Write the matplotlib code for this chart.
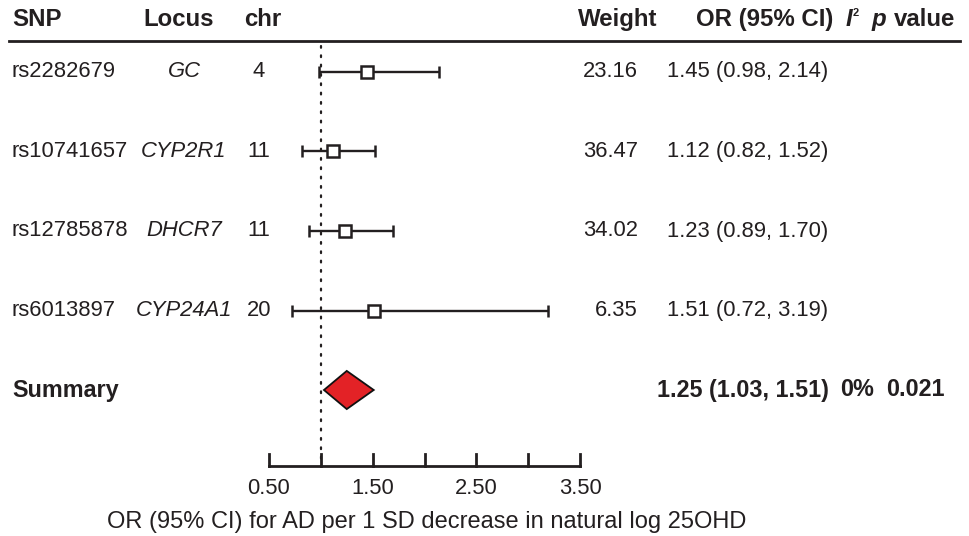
import matplotlib
matplotlib.use('Agg')
import matplotlib.pyplot as plt
from matplotlib.transforms import blended_transform_factory
from matplotlib.patches import Polygon
import numpy as np

plt.rcParams['font.family'] = ['Liberation Sans', 'DejaVu Sans']

# data
snps = ['rs2282679', 'rs10741657', 'rs12785878', 'rs6013897']
loci = ['GC', 'CYP2R1', 'DHCR7', 'CYP24A1']
chrom = ['4', '11', '11', '20']
weights = [23.16, 36.47, 34.02, 6.35]
or_est = [1.45, 1.12, 1.23, 1.51]
or_lo = [0.98, 0.82, 0.89, 0.72]
or_hi = [2.14, 1.52, 1.70, 3.19]
sum_est, sum_lo, sum_hi = 1.25, 1.03, 1.51
sum_i2 = '0%'
sum_p = '0.021'
xticks = [0.5, 1.0, 1.5, 2.0, 2.5, 3.0, 3.5]
xticklabels = ['0.50', '', '1.50', '', '2.50', '', '3.50']

W, H = 970, 536
ink = '#231f20'
fig = plt.figure(figsize=(W / 100, H / 100), dpi=100)
ax = fig.add_axes([0, 0, 1, 1])
ax.axis('off')

# pixel layout -> data coords
px_per_unit = 103.67
x0_px = 269
row0_px, row_step = 72, 79.5
ax.set_xlim(0.5 - x0_px / px_per_unit, 0.5 + (W - x0_px) / px_per_unit)
ax.set_ylim((H - row0_px) / row_step, -row0_px / row_step)

def ypx(p):
    return (p - row0_px) / row_step

tr = blended_transform_factory(ax.transAxes, ax.transData)
def fx(p):
    return p / W

n = len(snps)
rows = np.arange(n)
sum_row = n

# header
hy = ypx(20)
hkw = dict(transform=tr, fontsize=17.3, fontweight='bold', va='center', color=ink)
ax.text(fx(12), hy, 'SNP', ha='left', **hkw)
ax.text(fx(179), hy, 'Locus', ha='center', **hkw)
ax.text(fx(263), hy, 'chr', ha='center', **hkw)
ax.text(fx(657), hy, 'Weight', ha='right', **hkw)
ax.text(fx(765), hy, 'OR (95% CI)', ha='center', **hkw)
ax.text(fx(846), hy, 'I', ha='left', style='italic', **hkw)
ax.text(fx(853), ypx(13), '2', transform=tr, ha='left', va='center',
        fontsize=8, fontweight='bold', color=ink)
ax.text(fx(872), hy, 'p', ha='left', style='italic', **hkw)
ax.text(fx(894), hy, 'value', ha='left', **hkw)
ax.plot([fx(9), fx(960)], [ypx(41), ypx(41)], transform=tr, color=ink, lw=2)

# rows
bkw = dict(transform=tr, fontsize=15.8, va='center', color=ink)
for i in range(n):
    ax.text(fx(12), rows[i], snps[i], ha='left', **bkw)
    ax.text(fx(184), rows[i], loci[i], ha='center', style='italic', **bkw)
    ax.text(fx(259), rows[i], chrom[i], ha='center', **bkw)
    ax.text(fx(638), rows[i], f'{weights[i]:.2f}', ha='right', **bkw)
    ax.text(fx(667), rows[i], f'{or_est[i]:.2f} ({or_lo[i]:.2f}, {or_hi[i]:.2f})',
            ha='left', **bkw)

# summary row
skw = dict(transform=tr, fontsize=16.8, fontweight='bold', va='center', color=ink)
ax.text(fx(12), sum_row, 'Summary', ha='left', **skw)
ax.text(fx(657), sum_row, f'{sum_est:.2f} ({sum_lo:.2f}, {sum_hi:.2f})', ha='left', **skw)
ax.text(fx(840), sum_row, sum_i2, ha='left', **skw)
ax.text(fx(886), sum_row, sum_p, ha='left', **skw)

# reference line
axis_y = ypx(466)
ax.plot([1.0, 1.0], [ypx(46), axis_y], color=ink, lw=1.6,
        linestyle=(0, (0.8, 3.4)), dash_capstyle='round')

# estimates with CIs
ax.errorbar(or_est, rows,
            xerr=[np.array(or_est) - np.array(or_lo), np.array(or_hi) - np.array(or_est)],
            fmt='s', ms=8, mfc='white', mec=ink, mew=1.8,
            ecolor=ink, elinewidth=1.7, capsize=4, capthick=1.7, zorder=3)

# summary diamond
dh = 0.24
diamond = Polygon([[sum_lo, sum_row], [sum_est, sum_row - dh],
                   [sum_hi, sum_row], [sum_est, sum_row + dh]],
                  closed=True, facecolor='#e32226', edgecolor='#111111', lw=1.3, zorder=3)
ax.add_patch(diamond)

# x axis
ax.plot([xticks[0], xticks[-1]], [axis_y, axis_y], color=ink, lw=2)
tick_top = ypx(454)
for t, lab in zip(xticks, xticklabels):
    ax.plot([t, t], [axis_y, tick_top], color=ink, lw=2)
    if lab:
        ax.text(t, ypx(488), lab, ha='center', va='center', fontsize=15.8, color=ink)
ax.text(fx(427), ypx(522), 'OR (95% CI) for AD per 1 SD decrease in natural log 25OHD',
        transform=tr, ha='center', va='center', fontsize=17, color=ink)

fig.savefig('out.png', dpi=100)
